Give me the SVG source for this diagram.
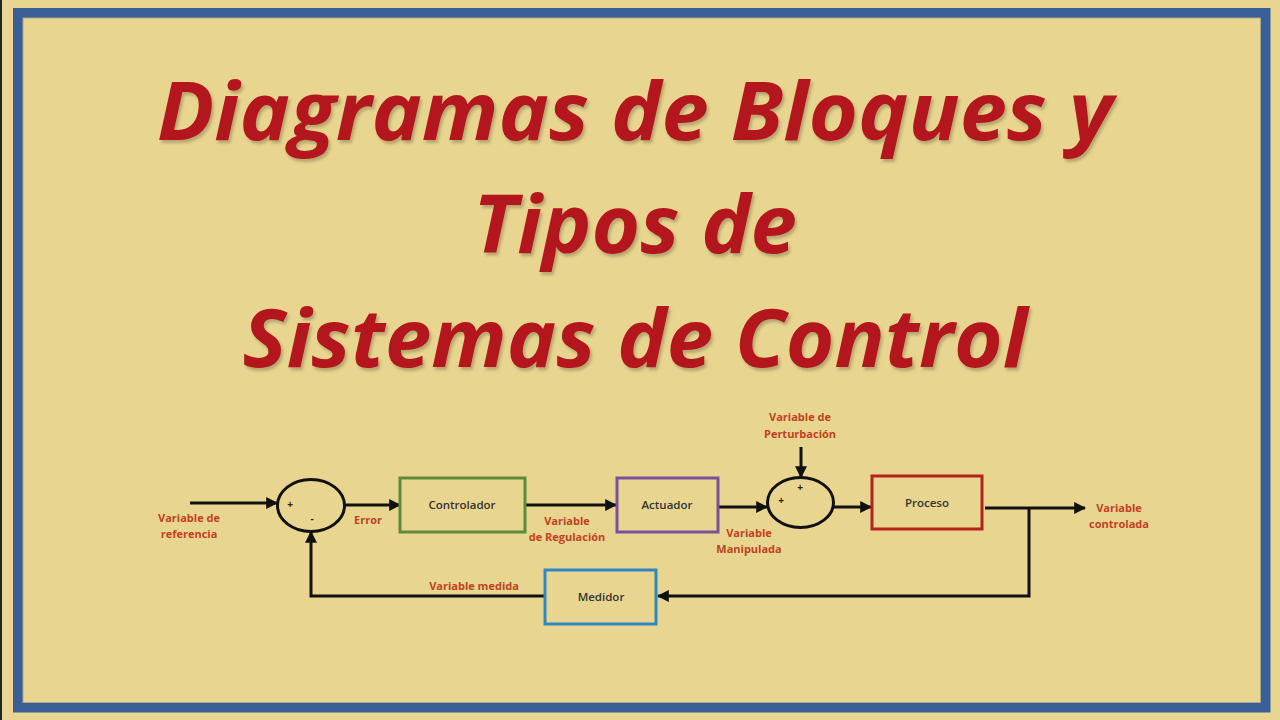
<svg xmlns="http://www.w3.org/2000/svg" width="1280" height="720" viewBox="0 0 1280 720">
<defs>
<marker id="ah" viewBox="0 0 10 10" refX="9" refY="5" markerWidth="4" markerHeight="4" orient="auto" markerUnits="strokeWidth">
<path d="M0,0 L10,5 L0,10 z" fill="#111"/>
</marker>
<filter id="sh" x="-5%" y="-20%" width="110%" height="140%">
<feDropShadow dx="2" dy="3" stdDeviation="1.5" flood-color="#5a4a30" flood-opacity="0.35"/>
</filter>
<style>
.title{font-family:"Open Sans","Liberation Sans",sans-serif;font-weight:700;font-style:italic;font-size:80px;fill:#B3161A;text-anchor:middle}
.lbl{font-family:"Open Sans","Liberation Sans",sans-serif;font-weight:700;font-size:11px;fill:#C2411F;text-anchor:middle}
.nt{font-family:"Open Sans","Liberation Sans",sans-serif;font-weight:600;font-size:11.5px;fill:#333;text-anchor:middle}
.sg{font-family:"Open Sans","Liberation Sans",sans-serif;font-weight:700;font-size:10px;fill:#222;text-anchor:middle}
.box{fill:none;stroke-width:3}
.ln{fill:none;stroke:#111;stroke-width:3}
.sum{fill:none;stroke:#111;stroke-width:3}
</style>
</defs>
<rect x="0" y="0" width="1280" height="720" fill="#E8D690"/>
<rect x="0" y="0" width="2" height="720" fill="#222"/>
<rect x="18" y="13" width="1247.5" height="694.5" fill="none" stroke="#3A5F96" stroke-width="10"/>
<rect x="23" y="18" width="1237.5" height="684.5" fill="none" stroke="#A9A58A" stroke-width="1"/>

<g id="title" filter="url(#sh)">
<text class="title" x="635" y="140" textLength="956" lengthAdjust="spacingAndGlyphs">Diagramas de Bloques y</text>
<text class="title" x="635" y="253" textLength="324" lengthAdjust="spacingAndGlyphs">Tipos de</text>
<text class="title" x="635" y="367" textLength="785" lengthAdjust="spacingAndGlyphs">Sistemas de Control</text>
</g>

<g id="connectors">
<line class="ln" x1="190" y1="503" x2="277" y2="503" marker-end="url(#ah)"/>
<line class="ln" x1="345" y1="505" x2="400" y2="505" marker-end="url(#ah)"/>
<line class="ln" x1="525" y1="505" x2="616" y2="505" marker-end="url(#ah)"/>
<line class="ln" x1="718" y1="507" x2="767" y2="507" marker-end="url(#ah)"/>
<line class="ln" x1="801" y1="447" x2="801" y2="477" marker-end="url(#ah)"/>
<line class="ln" x1="834" y1="507" x2="871" y2="507" marker-end="url(#ah)"/>
<line class="ln" x1="985" y1="508" x2="1085" y2="508" marker-end="url(#ah)"/>
<polyline class="ln" points="1029,508 1029,596 658,596" marker-end="url(#ah)"/>
<polyline class="ln" points="545,596 311,596 311,532" marker-end="url(#ah)"/>
</g>

<g id="sum1">
<ellipse class="sum" cx="311" cy="505.5" rx="33.5" ry="26"/>
<text class="sg" x="290" y="508">+</text>
<text class="sg" x="312" y="522">-</text>
</g>
<g id="sum2">
<ellipse class="sum" cx="800.5" cy="502.5" rx="33" ry="25"/>
<text class="sg" x="800" y="491">+</text>
<text class="sg" x="781" y="504">+</text>
</g>

<g id="controlador">
<rect class="box" x="400" y="478" width="125" height="54" stroke="#5E8A3C"/>
<text class="nt" x="462" y="509">Controlador</text>
</g>
<g id="actuador">
<rect class="box" x="617" y="478" width="101" height="54" stroke="#7B4F9C"/>
<text class="nt" x="667" y="509">Actuador</text>
</g>
<g id="proceso">
<rect class="box" x="872" y="476" width="110" height="53" stroke="#B5231C"/>
<text class="nt" x="927" y="507">Proceso</text>
</g>
<g id="medidor">
<rect class="box" x="545" y="570" width="111" height="54" stroke="#2F87C2"/>
<text class="nt" x="601" y="601">Medidor</text>
</g>

<g id="labels">
<text class="lbl" x="189" y="522">Variable de</text>
<text class="lbl" x="189" y="538">referencia</text>
<text class="lbl" x="368" y="524">Error</text>
<text class="lbl" x="567" y="525">Variable</text>
<text class="lbl" x="567" y="541">de Regulación</text>
<text class="lbl" x="749" y="537">Variable</text>
<text class="lbl" x="749" y="553">Manipulada</text>
<text class="lbl" x="800" y="421">Variable de</text>
<text class="lbl" x="800" y="438">Perturbación</text>
<text class="lbl" x="1119" y="512">Variable</text>
<text class="lbl" x="1119" y="528">controlada</text>
<text class="lbl" x="474" y="590">Variable medida</text>
</g>
</svg>
